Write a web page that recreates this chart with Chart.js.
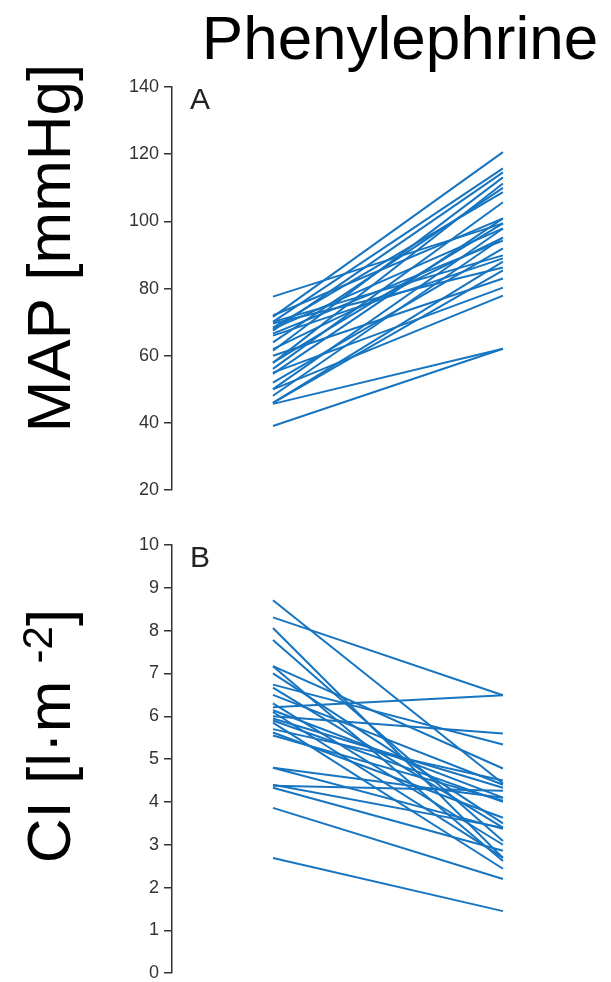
<!DOCTYPE html>
<html>
<head>
<meta charset="utf-8">
<script src="https://cdn.jsdelivr.net/npm/chart.js@4"></script>
<style>
  body { margin: 0; background: #fff; width: 611px; height: 982px; position: relative; overflow: hidden; }
  #title { position: absolute; left: 200px; top: 2px; width: 400px; text-align: center;
           font-family: "Liberation Sans", Arial, sans-serif; font-size: 62px; color: #000; }
  #top { position: absolute; left: 0; top: 0; }
  #bottom { position: absolute; left: 0; top: 500px; }
</style>
</head>
<body>
<div id="title">Phenylephrine</div>
<canvas id="top" width="611" height="506"></canvas>
<canvas id="bottom" width="611" height="489"></canvas>
<script>
// MAP [mmHg] before / after phenylephrine, one entry per subject
var mapBefore = [77.6, 71.6, 70.1, 69.6, 68.4, 67.5, 66.6, 70.1, 61.5, 57.9, 56.1, 54.6, 50.1, 48.1,
                 46.0, 45.7, 39.1, 55.0, 60.0, 50.0, 66.0, 62.0, 58.0, 46.0, 52.0, 68.0, 64.0, 72.0];
var mapAfter  = [99.4, 120.6, 115.8, 86.3, 108.7, 114.6, 94.3, 89.9, 113.1, 111.3, 105.7, 100.9, 97.9, 95.2,
                 85.4, 62.1, 62.1, 80.3, 83.0, 77.9, 89.0, 95.2, 99.4, 88.0, 92.0, 97.9, 110.0, 100.9];

// CI [l·m-2] before / after
var ciBefore = [8.71, 8.31, 8.06, 7.78, 7.17, 7.17, 6.74, 6.67, 6.21, 6.14, 5.95, 5.85, 5.62, 5.55,
                6.00, 4.80, 4.38, 4.33, 3.86, 2.69, 6.30, 6.50, 4.80, 5.90, 7.00, 4.40, 6.10, 5.70];
var ciAfter  = [4.43, 6.49, 2.69, 3.09, 4.78, 2.62, 5.34, 3.40, 6.49, 4.10, 4.33, 2.44, 3.63, 4.03,
                5.60, 3.37, 4.26, 2.86, 2.20, 1.45, 3.00, 4.40, 4.10, 4.00, 3.50, 3.40, 2.70, 4.50];

var mapTicks = [20, 140, 20];   // min, max, step
var ciTicks  = [0, 10, 1];

var blue = 'rgb(22,116,192)';
var axisColor = '#333';
var font = '"Liberation Sans", Arial, sans-serif';

function makeSets(before, after) {
  return before.map(function (b, i) {
    return {
      data: [{x: 0, y: b}, {x: 1, y: after[i]}],
      borderColor: blue,
      borderWidth: 2,
      pointRadius: 0,
      showLine: true,
      fill: false
    };
  });
}

// rotated y title plus panel letter
function labelsPlugin(parts, centerY, letter, letterY) {
  return {
    id: 'labels',
    afterDraw: function (chart) {
      var ctx = chart.ctx;
      ctx.save();
      ctx.fillStyle = '#222';
      ctx.font = '30px ' + font;
      ctx.textBaseline = 'alphabetic';
      ctx.fillText(letter, 190, letterY);
      ctx.fillStyle = '#000';
      ctx.translate(70, centerY);
      ctx.rotate(-Math.PI / 2);
      var total = 0;
      parts.forEach(function (p) {
        ctx.font = p.size + 'px ' + font;
        total += ctx.measureText(p.text).width;
      });
      var x = -total / 2;
      parts.forEach(function (p) {
        ctx.font = p.size + 'px ' + font;
        ctx.fillText(p.text, x, -(p.rise || 0));
        x += ctx.measureText(p.text).width;
      });
      ctx.restore();
    }
  };
}

function makeChart(id, before, after, ticks, padTop, padBottom, plugin) {
  return new Chart(document.getElementById(id), {
    type: 'scatter',
    data: { datasets: makeSets(before, after) },
    options: {
      responsive: false,
      animation: false,
      layout: { padding: { left: 0, right: 11, top: padTop, bottom: padBottom } },
      plugins: { legend: { display: false }, tooltip: { enabled: false } },
      scales: {
        x: { type: 'linear', display: false, min: -0.439, max: 1.422 },
        y: {
          min: ticks[0], max: ticks[1],
          afterFit: function (s) { s.width = 172; },
          ticks: { stepSize: ticks[2], color: '#333', padding: 5, font: { family: font, size: 18 } },
          grid: { drawOnChartArea: false, drawTicks: true, tickLength: 8, color: axisColor, lineWidth: 1.5 },
          border: { display: true, color: axisColor, width: 1.5 }
        }
      }
    },
    plugins: [plugin]
  });
}

makeChart('top', mapBefore, mapAfter, mapTicks, 87, 5,
  labelsPlugin([{text: 'MAP [mmHg]', size: 62}], 248, 'A', 109));

makeChart('bottom', ciBefore, ciAfter, ciTicks, 45, 3,
  labelsPlugin([{text: 'CI [l\u00b7m ', size: 62}, {text: '-2', size: 42, rise: 18}, {text: ']', size: 62}], 236, 'B', 67));
</script>
</body>
</html>
